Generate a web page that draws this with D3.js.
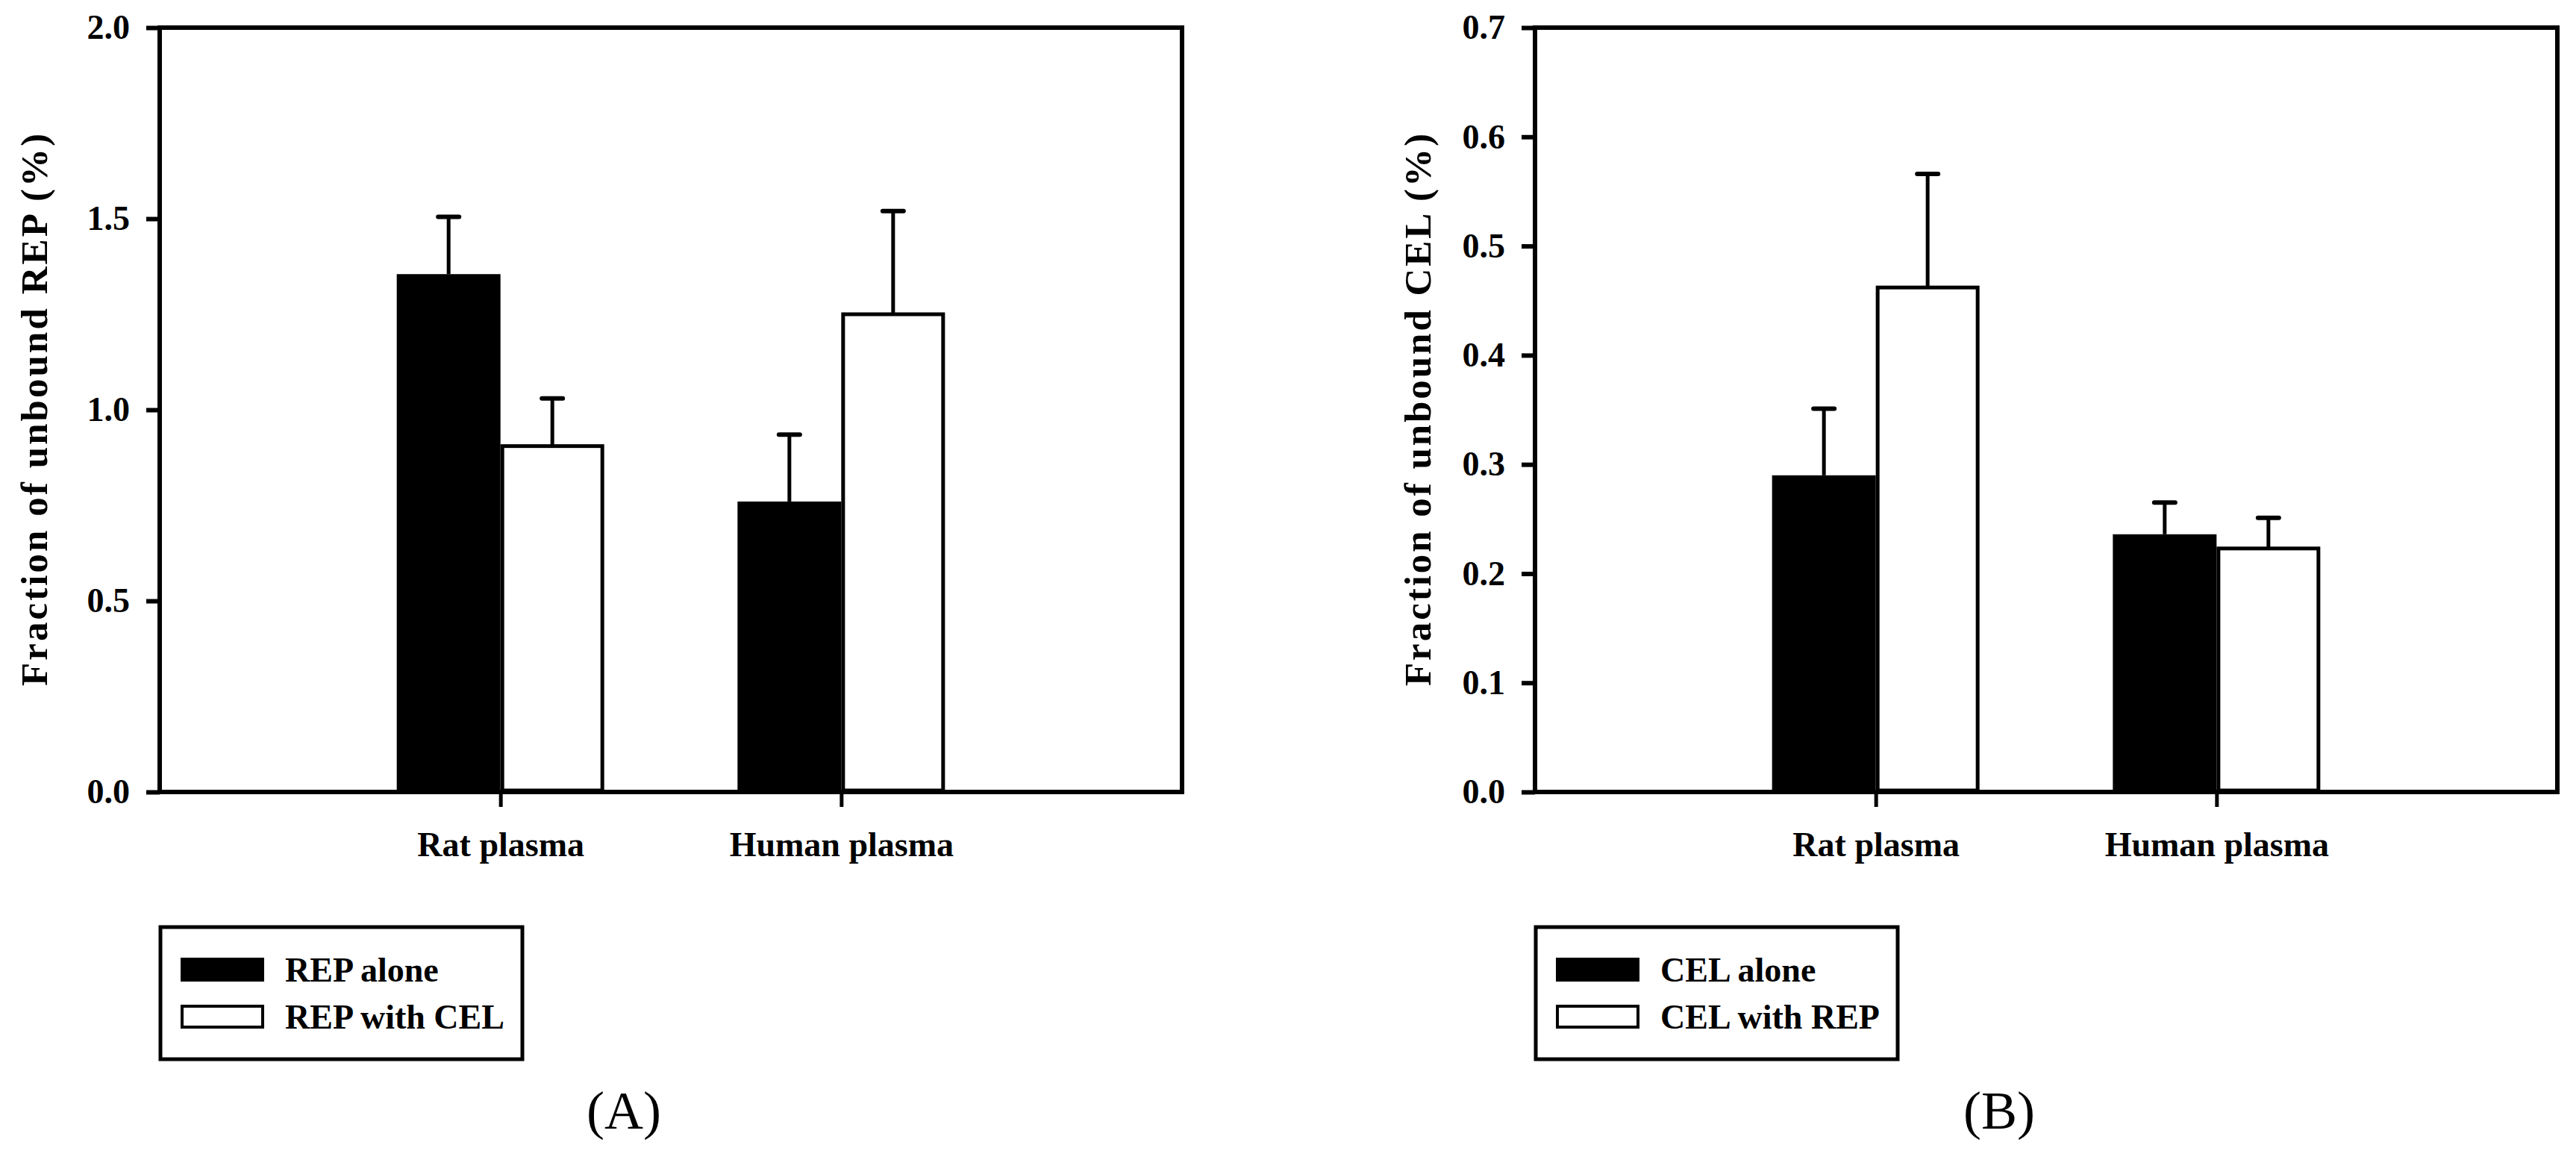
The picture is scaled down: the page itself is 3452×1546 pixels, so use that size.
<!DOCTYPE html>
<html>
<head>
<meta charset="utf-8">
<script src="https://cdn.jsdelivr.net/npm/d3@7"></script>
<style>
  html, body { margin: 0; padding: 0; background: #fff; }
  svg { display: block; }
  .axis text, .legend text, .axis-title { font-family: "Liberation Serif", "Times New Roman", serif; font-weight: bold; fill: #000; }
  .panel-label { font-family: "Liberation Serif", "Times New Roman", serif; fill: #000; }
</style>
</head>
<body>
<div id="chart"></div>
<script>
// Categories on the x axis
const categories = ['Rat plasma', 'Human plasma'];

// Panel A: unbound REP (%)
const repAlone = [1.355, 0.76];
const repAloneSd = [0.15, 0.175];
const repWithCel = [0.905, 1.25];
const repWithCelSd = [0.125, 0.27];
const repTicks = [0, 0.5, 1.0, 1.5, 2.0];

// Panel B: unbound CEL (%)
const celAlone = [0.29, 0.236];
const celAloneSd = [0.061, 0.029];
const celWithRep = [0.462, 0.223];
const celWithRepSd = [0.104, 0.028];
const celTicks = [0, 0.1, 0.2, 0.3, 0.4, 0.5, 0.6, 0.7];

class BarPanel {
  constructor(_config, _series) {
    this.config = {
      svg: _config.svg,
      left: _config.left,
      top: 37,
      width: 1370,
      height: 1024,
      yMax: _config.yMax,
      yTicks: _config.yTicks,
      yTitle: _config.yTitle,
      titleX: _config.titleX,
      label: _config.label,
    };
    this.series = _series;
    this.initVis();
  }

  initVis() {
    const vis = this;
    const c = vis.config;

    vis.g = c.svg.append('g')
      .attr('transform', `translate(${c.left},${c.top})`);

    vis.xScale = d3.scalePoint()
      .domain(categories)
      .range([0, c.width])
      .padding(1);
    vis.yScale = d3.scaleLinear()
      .domain([0, c.yMax])
      .range([c.height, 0]);

    vis.barWidth = vis.xScale.step() * 0.3;

    vis.yAxis = d3.axisLeft(vis.yScale)
      .tickValues(c.yTicks)
      .tickSize(18)
      .tickPadding(22)
      .tickFormat(d3.format('.1f'));
    vis.xAxis = d3.axisBottom(vis.xScale)
      .tickSize(20)
      .tickPadding(0);

    vis.chart = vis.g.append('g');
    vis.xAxisG = vis.g.append('g')
      .attr('class', 'axis x-axis')
      .attr('transform', `translate(0,${c.height})`);
    vis.yAxisG = vis.g.append('g')
      .attr('class', 'axis y-axis');

    vis.updateVis();
  }

  updateVis() {
    const vis = this;
    vis.barData = [];
    vis.series.forEach((s, si) => {
      categories.forEach((cat, i) => {
        vis.barData.push({
          cat: cat,
          series: si,
          value: s.values[i],
          sd: s.sd[i],
          fill: s.fill,
        });
      });
    });
    vis.renderVis();
  }

  renderVis() {
    const vis = this;
    const c = vis.config;
    const bw = vis.barWidth;
    const barX = (d) => (d.series === 0
      ? vis.xScale(d.cat) - bw - 2
      : vis.xScale(d.cat) + 2.5);
    const barW = (d) => (d.series === 0 ? bw + 2 : bw - 3);
    const barMid = (d) => barX(d) + barW(d) / 2;

    // error bars (upper only)
    vis.chart.selectAll('.err')
      .data(vis.barData)
      .join('line')
      .attr('class', 'err')
      .attr('x1', barMid)
      .attr('x2', barMid)
      .attr('y1', (d) => vis.yScale(d.value))
      .attr('y2', (d) => vis.yScale(d.value + d.sd))
      .attr('stroke', '#000')
      .attr('stroke-width', 5);
    vis.chart.selectAll('.cap')
      .data(vis.barData)
      .join('line')
      .attr('class', 'cap')
      .attr('x1', (d) => barMid(d) - 14)
      .attr('x2', (d) => barMid(d) + 14)
      .attr('y1', (d) => vis.yScale(d.value + d.sd))
      .attr('y2', (d) => vis.yScale(d.value + d.sd))
      .attr('stroke', '#000')
      .attr('stroke-width', 6)
      .attr('stroke-linecap', 'round');

    vis.chart.selectAll('.bar')
      .data(vis.barData)
      .join('rect')
      .attr('class', 'bar')
      .attr('x', barX)
      .attr('width', barW)
      .attr('y', (d) => vis.yScale(d.value))
      .attr('height', (d) => c.height - 2 - vis.yScale(d.value))
      .attr('fill', (d) => d.fill)
      .attr('stroke', (d) => (d.series === 0 ? 'none' : '#000'))
      .attr('stroke-width', 5);

    // axes
    vis.yAxisG.call(vis.yAxis)
      .call((g) => g.select('.domain').remove());
    vis.yAxisG.selectAll('line').attr('stroke-width', 6);
    vis.yAxisG.selectAll('text').attr('font-size', 46);

    vis.xAxisG.call(vis.xAxis)
      .call((g) => g.select('.domain').remove());
    vis.xAxisG.selectAll('line').attr('stroke-width', 5);
    vis.xAxisG.selectAll('text')
      .attr('font-size', 46)
      .attr('y', 86)
      .attr('dy', null);

    // frame
    vis.g.append('rect')
      .attr('x', 0)
      .attr('y', 0)
      .attr('width', c.width)
      .attr('height', c.height)
      .attr('fill', 'none')
      .attr('stroke', '#000')
      .attr('stroke-width', 6);

    // y axis title
    c.svg.append('text')
      .attr('class', 'axis-title')
      .attr('transform', `translate(${c.titleX},${c.top + c.height / 2}) rotate(-90)`)
      .attr('text-anchor', 'middle')
      .attr('font-size', 51)
      .attr('textLength', 740)
      .attr('lengthAdjust', 'spacing')
      .text(c.yTitle);

    // legend
    const lg = c.svg.append('g')
      .attr('class', 'legend')
      .attr('transform', `translate(${c.left + 1},1242)`);
    lg.append('rect')
      .attr('width', 485)
      .attr('height', 177)
      .attr('fill', 'none')
      .attr('stroke', '#000')
      .attr('stroke-width', 5);
    vis.series.forEach((s, i) => {
      lg.append('rect')
        .attr('x', i === 0 ? 27 : 29)
        .attr('y', i === 0 ? 41 : 106)
        .attr('width', i === 0 ? 112 : 108)
        .attr('height', i === 0 ? 32 : 28)
        .attr('fill', s.fill)
        .attr('stroke', i === 0 ? 'none' : '#000')
        .attr('stroke-width', 4);
      lg.append('text')
        .attr('x', 167)
        .attr('y', i === 0 ? 73 : 136)
        .attr('font-size', 46)
        .text(s.name);
    });

    // panel label
    c.svg.append('text')
      .attr('class', 'panel-label')
      .attr('x', c.left + 622)
      .attr('y', 1512)
      .attr('text-anchor', 'middle')
      .attr('font-size', 72)
      .text(c.label);
  }
}

const svg = d3.select('#chart').append('svg')
  .attr('width', 3452)
  .attr('height', 1546);

new BarPanel({
  svg: svg, left: 214, yMax: 2.0, yTicks: repTicks,
  yTitle: 'Fraction of unbound REP (%)', titleX: 63, label: '(A)',
}, [
  { name: 'REP alone', values: repAlone, sd: repAloneSd, fill: '#000' },
  { name: 'REP with CEL', values: repWithCel, sd: repWithCelSd, fill: '#fff' },
]);

new BarPanel({
  svg: svg, left: 2057, yMax: 0.7, yTicks: celTicks,
  yTitle: 'Fraction of unbound CEL (%)', titleX: 1917, label: '(B)',
}, [
  { name: 'CEL alone', values: celAlone, sd: celAloneSd, fill: '#000' },
  { name: 'CEL with REP', values: celWithRep, sd: celWithRepSd, fill: '#fff' },
]);
</script>
</body>
</html>
